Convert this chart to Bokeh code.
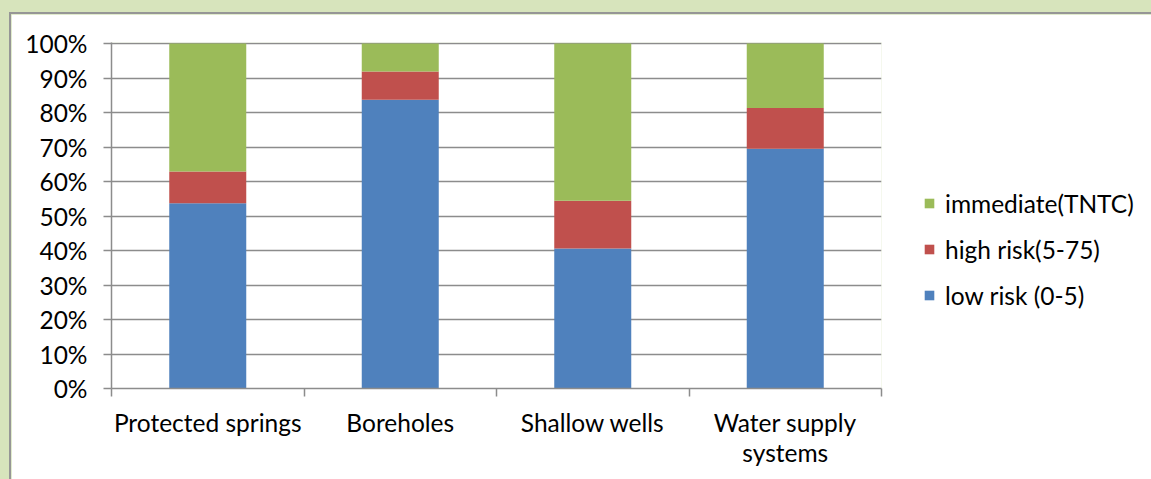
from bokeh.plotting import figure
from bokeh.models import (Range1d, FixedTicker, Legend, LegendItem, ColumnDataSource)
from bokeh.embed import file_html
from bokeh.resources import INLINE

# ---------------- data ----------------
categories = ["Protected springs", "Boreholes", "Shallow wells", "Water supply systems"]
category_labels = ["Protected springs", "Boreholes", "Shallow wells", "Water supply\nsystems"]
low_risk = [53.7, 83.7, 40.6, 69.5]
high_risk = [9.2, 8.2, 13.8, 11.8]
immediate = [37.1, 8.1, 45.6, 18.7]
series_names = ["low risk (0-5)", "high risk(5-75)", "immediate(TNTC)"]
series_colors = ["#4F81BD", "#C0504D", "#9BBB59"]
y_ticks = [0, 10, 20, 30, 40, 50, 60, 70, 80, 90, 100]

FONT = "Lato"
FS = "24.5px"
GREY = "#8C8C8C"

xs = [i + 0.5 for i in range(len(categories))]
src = ColumnDataSource(dict(x=xs, low=low_risk, high=high_risk, imm=immediate))

FL, FT, FWID, FHGT = 100, 28, 770, 346
p = figure(frame_width=FWID, frame_height=FHGT, output_backend="svg", toolbar_location=None,
           x_range=Range1d(0, len(categories)), y_range=Range1d(0, 100.3),
           min_border_left=FL, min_border_top=FT,
           min_border_right=290, min_border_bottom=93)
p.margin = (12, 0, 0, 9)
p.styles = {"border-top": "2px solid #969696", "border-left": "2px solid #969696",
            "border-right": "0px none", "max-width": "none"}
p.background_fill_color = "white"
p.border_fill_color = "white"
p.outline_line_color = None

rs = p.vbar_stack(["low", "high", "imm"], x="x", width=0.4, color=series_colors,
                  line_color=None, source=src)

# y axis
p.yaxis.ticker = FixedTicker(ticks=y_ticks, minor_ticks=[])
p.yaxis.major_label_overrides = {t: f"{t}%" for t in y_ticks}
p.yaxis.axis_line_color = GREY
p.yaxis.axis_line_width = 1.5
p.yaxis.major_tick_line_color = GREY
p.yaxis.major_tick_line_width = 1.5
p.yaxis.major_tick_out = 8
p.yaxis.major_tick_in = 0
p.yaxis.minor_tick_line_color = None
p.yaxis.major_label_standoff = 16
p.yaxis.major_label_text_font = FONT
p.yaxis.major_label_text_font_size = FS
p.yaxis.major_label_text_color = "black"

# x axis: labels at centers, ticks at category boundaries
p.xaxis.ticker = FixedTicker(ticks=xs, minor_ticks=list(range(len(categories) + 1)))
p.xaxis.major_label_overrides = {x: lab for x, lab in zip(xs, category_labels)}
p.xaxis.axis_line_color = GREY
p.xaxis.axis_line_width = 1.5
p.xaxis.major_tick_line_color = None
p.xaxis.major_tick_out = 0
p.xaxis.major_tick_in = 0
p.xaxis.minor_tick_line_color = GREY
p.xaxis.minor_tick_line_width = 1.5
p.xaxis.minor_tick_out = 8
p.xaxis.minor_tick_in = 0
p.xaxis.major_label_standoff = 11
p.xaxis.major_label_text_font = FONT
p.xaxis.major_label_text_font_size = FS
p.xaxis.major_label_text_color = "black"
p.xaxis.major_label_text_line_height = 1.05

p.xgrid.grid_line_color = None
p.ygrid.ticker = FixedTicker(ticks=y_ticks[1:])
p.ygrid.grid_line_color = GREY
p.ygrid.grid_line_width = 1.5

items = [LegendItem(label=n, renderers=[r]) for n, r in zip(series_names, rs)][::-1]
legend = Legend(items=items, location=(42, 78), orientation="vertical",
                glyph_width=12, glyph_height=12, label_height=30, spacing=16,
                label_standoff=10, padding=0, margin=0,
                border_line_color=None, background_fill_alpha=0,
                label_text_font=FONT, label_text_font_size=FS, label_text_color="black")
p.add_layout(legend, "right")

html = file_html(p, INLINE)
html = html.replace("<head>", "<head><style>html,body{background:#D7E4BC;overflow:hidden;}"
                    "body{min-width:1400px;}</style>", 1)
open("out.html", "w").write(html)
